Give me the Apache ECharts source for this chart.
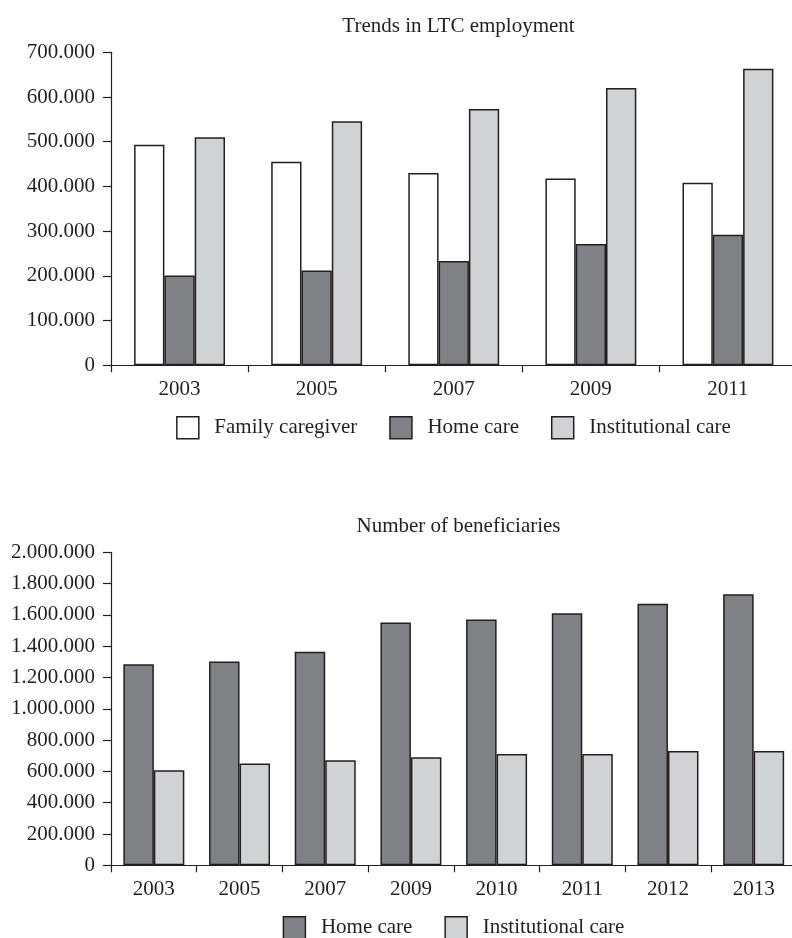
<!DOCTYPE html>
<html>
<head>
<meta charset="utf-8">
<script src="https://cdn.jsdelivr.net/npm/echarts@6/dist/echarts.min.js"></script>
<style>
  html, body { margin: 0; padding: 0; background: #fff; overflow: hidden; }
  #chart { width: 907px; height: 938px; }
</style>
</head>
<body>
<div id="chart"></div>
<script>
// LTC employment (persons) by care type
const employmentYears = ['2003', '2005', '2007', '2009', '2011'];
const familyCaregiver = [493000, 455000, 430000, 418000, 408000];
const homeCareStaff = [201000, 212000, 233000, 271000, 292000];
const institutionalStaff = [510000, 546000, 573000, 620000, 663000];

// Beneficiaries by care type
const beneficiaryYears = ['2003', '2005', '2007', '2009', '2010', '2011', '2012', '2013'];
const homeCareBeneficiaries = [1284000, 1303000, 1365000, 1551000, 1570000, 1610000, 1672000, 1732000];
const institutionalBeneficiaries = [607000, 650000, 671000, 690000, 711000, 711000, 731000, 731000];

const FONT = '"Liberation Serif", "DejaVu Serif", serif';
const INK = '#231f20';
const WHITE = '#ffffff';
const DARK = '#808184';
const LIGHT = '#d1d2d4';

const fmt = v => String(v).replace(/\B(?=(\d{3})+(?!\d))/g, '.');

const textBase = { fontFamily: FONT, fontSize: 21, color: INK };

function xAxis(gridIndex, data) {
  return {
    type: 'category', gridIndex, data,
    axisLine: { lineStyle: { color: INK, width: 1.2 } },
    axisTick: { show: true, length: 7, lineStyle: { color: INK, width: 1.2 } },
    axisLabel: Object.assign({ margin: 14 }, textBase),
    splitLine: { show: false }
  };
}
function yAxis(gridIndex, max, interval) {
  return {
    type: 'value', gridIndex, min: 0, max, interval,
    axisLine: { show: true, lineStyle: { color: INK, width: 1.2 } },
    axisTick: { show: true, length: 8, lineStyle: { color: INK, width: 1.2 } },
    axisLabel: Object.assign({ margin: 16, formatter: fmt }, textBase),
    splitLine: { show: false }
  };
}
function bars(name, data, color, axisIndex, width) {
  return {
    name, type: 'bar', data,
    xAxisIndex: axisIndex, yAxisIndex: axisIndex,
    barWidth: width, barGap: '0%',
    itemStyle: { color, borderColor: INK, borderWidth: 1.5 },
    emphasis: { disabled: true }
  };
}
function legend(top, names) {
  return {
    top, left: 'center', data: names,
    itemWidth: 22, itemHeight: 22, itemGap: 32,
    icon: 'rect',
    formatter: n => '  ' + n,
    itemStyle: { borderColor: INK, borderWidth: 1.5 },
    textStyle: textBase
  };
}

const chart = echarts.init(document.getElementById('chart'), null, { renderer: 'canvas' });
chart.setOption({
  animation: false,
  backgroundColor: '#fff',
  title: [
    { text: 'Trends in LTC employment', left: 453.5, top: 11, textAlign: 'center',
      textStyle: Object.assign({ fontWeight: 'normal' }, textBase) },
    { text: 'Number of beneficiaries', left: 453.5, top: 511, textAlign: 'center',
      textStyle: Object.assign({ fontWeight: 'normal' }, textBase) }
  ],
  legend: [
    legend(411, ['Family caregiver', 'Home care', 'Institutional care']),
    legend(911, ['Home care', 'Institutional care'])
  ],
  grid: [
    { left: 111, right: 110.5, top: 52.3, height: 313, containLabel: false },
    { left: 111, right: 110.5, top: 552.3, height: 313, containLabel: false }
  ],
  xAxis: [xAxis(0, employmentYears), xAxis(1, beneficiaryYears)],
  yAxis: [yAxis(0, 700000, 100000), yAxis(1, 2000000, 200000)],
  series: [
    bars('Family caregiver', familyCaregiver, WHITE, 0, 30.3),
    bars('Home care', homeCareStaff, DARK, 0, 30.3),
    bars('Institutional care', institutionalStaff, LIGHT, 0, 30.3),
    bars('Home care', homeCareBeneficiaries, DARK, 1, 30.5),
    bars('Institutional care', institutionalBeneficiaries, LIGHT, 1, 30.5)
  ]
});
</script>
</body>
</html>
